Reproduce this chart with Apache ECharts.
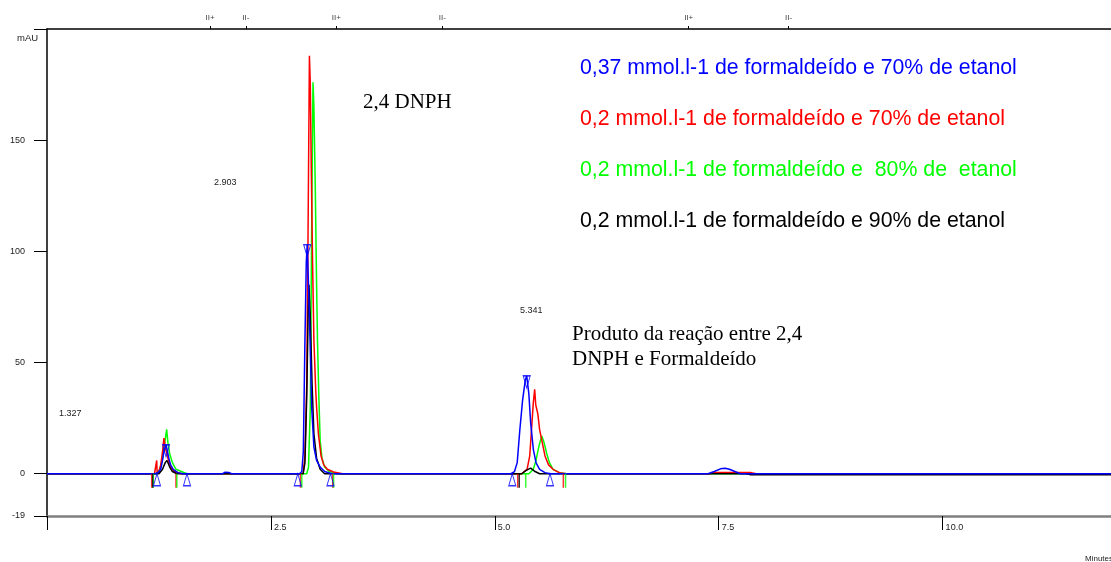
<!DOCTYPE html>
<html>
<head>
<meta charset="utf-8">
<script src="https://cdn.jsdelivr.net/npm/echarts@6/dist/echarts.min.js"></script>
<style>
html,body{margin:0;padding:0;background:#fff;}
#chart{width:1111px;height:562px;}
</style>
</head>
<body>
<div id="chart"></div>
<script>
// ---- Data (time in minutes, absorbance in mAU) ----
const seriesNames = [
  '0,37 mmol.l-1 de formaldeído e 70% de etanol',
  '0,2 mmol.l-1 de formaldeído e 70% de etanol',
  '0,2 mmol.l-1 de formaldeído e  80% de  etanol',
  '0,2 mmol.l-1 de formaldeído e 90% de etanol'
];
const seriesColors = ['#0000ff', '#ff0000', '#00ff00', '#000000'];

const blueTrace = [
  [0,0],[1.20,0],[1.24,0.5],[1.27,2],[1.29,6],[1.305,10],[1.329,13],[1.345,10],[1.36,7],[1.38,4],[1.41,2],[1.46,0.5],[1.52,0],
  [1.96,0],[1.99,0.7],[2.03,0.6],[2.06,0],
  [2.82,0],[2.845,1],[2.862,10],[2.88,60],[2.895,95],[2.905,103],[2.92,85],[2.937,60],[2.955,30],[2.98,12],[3.01,6],[3.05,3],[3.10,1],[3.18,0],
  [5.18,0],[5.22,1],[5.25,5],[5.28,20],[5.31,33],[5.34,42],[5.356,44],[5.38,36],[5.40,23],[5.43,11],[5.46,5],[5.50,2],[5.56,0.5],[5.62,0],
  [7.38,0],[7.45,1],[7.52,2.2],[7.57,2.5],[7.62,2],[7.68,1],[7.74,0],[9.5,0],[11.88,0]
];
const redTrace = [
  [0,0],[1.20,0],[1.22,0],[1.225,6],[1.23,0],[1.25,1],[1.27,4],[1.29,10],[1.306,16],[1.32,12],[1.35,7],[1.38,3],[1.42,1],[1.50,0],
  [2.86,0],[2.88,8],[2.90,40],[2.915,110],[2.93,188],[2.94,175],[2.95,140],[2.965,95],[2.98,60],[3.00,38],[3.01,30],[3.03,18],[3.06,8],[3.09,4],[3.13,2],[3.2,0.8],[3.3,0],
  [5.30,0],[5.36,2],[5.39,8],[5.41,20],[5.43,32],[5.445,38],[5.457,31],[5.48,27],[5.50,20],[5.53,14],[5.56,8],[5.60,4],[5.65,2],[5.72,0.5],[5.8,0],
  [7.40,0],[7.45,0.6],[7.85,0.6],[7.88,0.3],[7.92,0],[8.2,0],[9.5,0],[11.88,0]
];
const greenTrace = [
  [0,0],[1.22,0],[1.26,2],[1.29,7],[1.315,14],[1.336,20],[1.35,14],[1.37,9],[1.40,5],[1.44,2],[1.50,1],[1.56,0],
  [2.90,0],[2.92,3],[2.94,30],[2.955,110],[2.97,176],[2.98,165],[2.995,130],[3.01,85],[3.02,60],[3.035,35],[3.05,15],[3.07,7],[3.10,3],[3.15,1],[3.25,0],
  [4.21,0],[4.22,0.6],[4.23,0],
  [5.38,0],[5.43,2],[5.46,6],[5.49,12],[5.524,17],[5.55,14],[5.58,9],[5.61,5],[5.65,2],[5.72,0.5],[5.8,0],[9.5,0],[11.88,0]
];
const blackTrace = [
  [0,0],[1.25,0],[1.29,2],[1.32,5],[1.34,6],[1.37,3],[1.40,1],[1.45,0],
  [2.86,0],[2.88,5],[2.90,35],[2.915,70],[2.925,85],[2.94,70],[2.96,40],[2.98,18],[3.01,7],[3.05,2],[3.1,0],
  [5.30,0],[5.35,1.5],[5.40,2.5],[5.45,1],[5.5,0],[7.80,0],[7.85,-0.4],[9.5,-0.4],[11.88,-0.4]
];

// integration marks
const blueApexMarks = [[1.329,13],[2.905,103],[5.356,44]];
const blueBaseMarks = [[1.228,0],[1.563,0],[2.80,0],[3.165,0],[5.195,0],[5.616,0]];
const redEventTimes = [1.169, 1.44, 2.83, 3.19, 5.256, 5.765];
const greenEventTimes = [1.187, 1.45, 2.845, 3.20, 5.345, 5.79];
const blackEventTimes = [1.18, 5.273];

// top event axis
const eventTimes = [1.82, 2.22, 3.23, 4.415, 7.165, 8.28];
const eventLabels = ['II+', 'II-', 'II+', 'II-', 'II+', 'II-'];

// axis ticks
const xTickValues = [0, 2.5, 5.0, 7.5, 10.0];
const xLabelValues = [2.5, 5.0, 7.5, 10.0];
const yTickValues = [-19, 0, 50, 100, 150, 200];
const yLabelValues = [-19, 0, 50, 100, 150];

// peak retention time labels
const rtLabels = ['1.327', '2.903', '5.341'];

const chart = echarts.init(document.getElementById('chart'), null, {renderer: 'canvas'});

const traces = [blueTrace, redTrace, greenTrace, blackTrace];
const drawOrder = [2, 1, 3, 0]; // green, red, black, blue on top

const lineSeries = drawOrder.map((i, k) => ({
  name: seriesNames[i],
  type: 'line',
  xAxisIndex: 0,
  yAxisIndex: 0,
  data: traces[i],
  showSymbol: false,
  symbol: 'none',
  clip: false,
  color: seriesColors[i],
  lineStyle: {color: seriesColors[i], width: 1.5},
  z: 2 + k * 0.01,
  silent: true,
  animation: false
}));

function eventSeries(times, color) {
  return {
    type: 'scatter',
    xAxisIndex: 0, yAxisIndex: 0,
    data: times.map(t => [t, 0]),
    symbol: 'rect',
    symbolSize: [1.5, 14],
    symbolOffset: [0, '50%'],
    itemStyle: {color: color},
    silent: true, animation: false, z: 3
  };
}

const option = {
  backgroundColor: '#ffffff',
  animation: false,
  grid: {left: 47, right: 0, top: 29, bottom: 46, containLabel: false, outerBoundsMode: 'none'},
  legend: {
    data: seriesNames.map((n, i) => ({name: n, icon: 'none', textStyle: {color: seriesColors[i]}})),
    orient: 'vertical',
    left: 575,
    top: 58,
    padding: 0,
    itemWidth: 0,
    itemHeight: 21,
    itemGap: 30,
    selectedMode: false,
    textStyle: {fontFamily: 'Liberation Sans, Arial, sans-serif', fontSize: 21.3, lineHeight: 21}
  },
  xAxis: [
    {
      type: 'value', position: 'bottom', min: 0, max: 11.88,
      axisLine: {show: true, onZero: false, lineStyle: {color: '#808080', width: 2.5}},
      axisTick: {show: true, customValues: xTickValues, length: 14, lineStyle: {color: '#000', width: 1}},
      axisLabel: {
        customValues: xLabelValues, formatter: v => v.toFixed(1),
        align: 'left', margin: 7, padding: [0, 0, 0, 3],
        fontFamily: 'Liberation Sans, Arial, sans-serif', fontSize: 9, color: '#222'
      },
      splitLine: {show: false}
    },
    {
      type: 'value', position: 'top', min: 0, max: 11.88,
      axisLine: {show: true, onZero: false, lineStyle: {color: '#000', width: 1.5}},
      axisTick: {show: true, customValues: eventTimes, length: 3, lineStyle: {color: '#000', width: 1}},
      axisLabel: {
        customValues: eventTimes,
        formatter: v => { const k = eventTimes.findIndex(t => Math.abs(t - v) < 1e-6); return k >= 0 ? eventLabels[k] : ''; },
        margin: 7, fontFamily: 'Liberation Sans, Arial, sans-serif', fontSize: 8, color: '#444'
      },
      splitLine: {show: false}
    }
  ],
  yAxis: {
    type: 'value', min: -19, max: 200,
    axisLine: {show: true, onZero: false, lineStyle: {color: '#000', width: 1.5}},
    axisTick: {show: true, customValues: yTickValues, length: 13, lineStyle: {color: '#000', width: 1}},
    axisLabel: {
      customValues: yLabelValues, margin: 22,
      fontFamily: 'Liberation Sans, Arial, sans-serif', fontSize: 9, color: '#222'
    },
    splitLine: {show: false}
  },
  graphic: [
    {type: 'text', left: 17, top: 33, style: {text: 'mAU', font: '9.5px "Liberation Sans", Arial, sans-serif', fill: '#222'}},
    {type: 'text', left: 1085, top: 555, style: {text: 'Minutes', font: '8px "Liberation Sans", Arial, sans-serif', fill: '#222'}},
    {type: 'text', left: 59, top: 409, style: {text: rtLabels[0], font: '9px "Liberation Sans", Arial, sans-serif', fill: '#222'}},
    {type: 'text', left: 214, top: 178, style: {text: rtLabels[1], font: '9px "Liberation Sans", Arial, sans-serif', fill: '#222'}},
    {type: 'text', left: 520, top: 306, style: {text: rtLabels[2], font: '9px "Liberation Sans", Arial, sans-serif', fill: '#222'}},
    {type: 'text', left: 363, top: 92, style: {text: '2,4 DNPH', font: '21px "Liberation Serif", "Times New Roman", serif', fill: '#000'}},
    {type: 'text', left: 572, top: 322, style: {text: 'Produto da reação entre 2,4\nDNPH e Formaldeído', font: '21px "Liberation Serif", "Times New Roman", serif', lineHeight: 25, fill: '#000'}}
  ],
  series: lineSeries.concat([
    eventSeries(redEventTimes, '#ff0000'),
    eventSeries(greenEventTimes, '#00ff00'),
    eventSeries(blackEventTimes, '#000000'),
    {
      type: 'scatter', xAxisIndex: 0, yAxisIndex: 0,
      data: blueApexMarks,
      symbol: 'triangle', symbolRotate: 180, symbolSize: [7, 12], symbolOffset: [0, '50%'],
      itemStyle: {color: 'rgba(255,255,255,0)', borderColor: '#0000ff', borderWidth: 1.2},
      silent: true, animation: false, z: 4
    },
    {
      type: 'scatter', xAxisIndex: 0, yAxisIndex: 0,
      data: blueBaseMarks,
      symbol: 'triangle', symbolSize: [7, 12], symbolOffset: [0, '50%'],
      itemStyle: {color: 'rgba(255,255,255,0)', borderColor: '#0000ff', borderWidth: 1.2},
      silent: true, animation: false, z: 4
    }
  ])
};

chart.setOption(option);
</script>
</body>
</html>
